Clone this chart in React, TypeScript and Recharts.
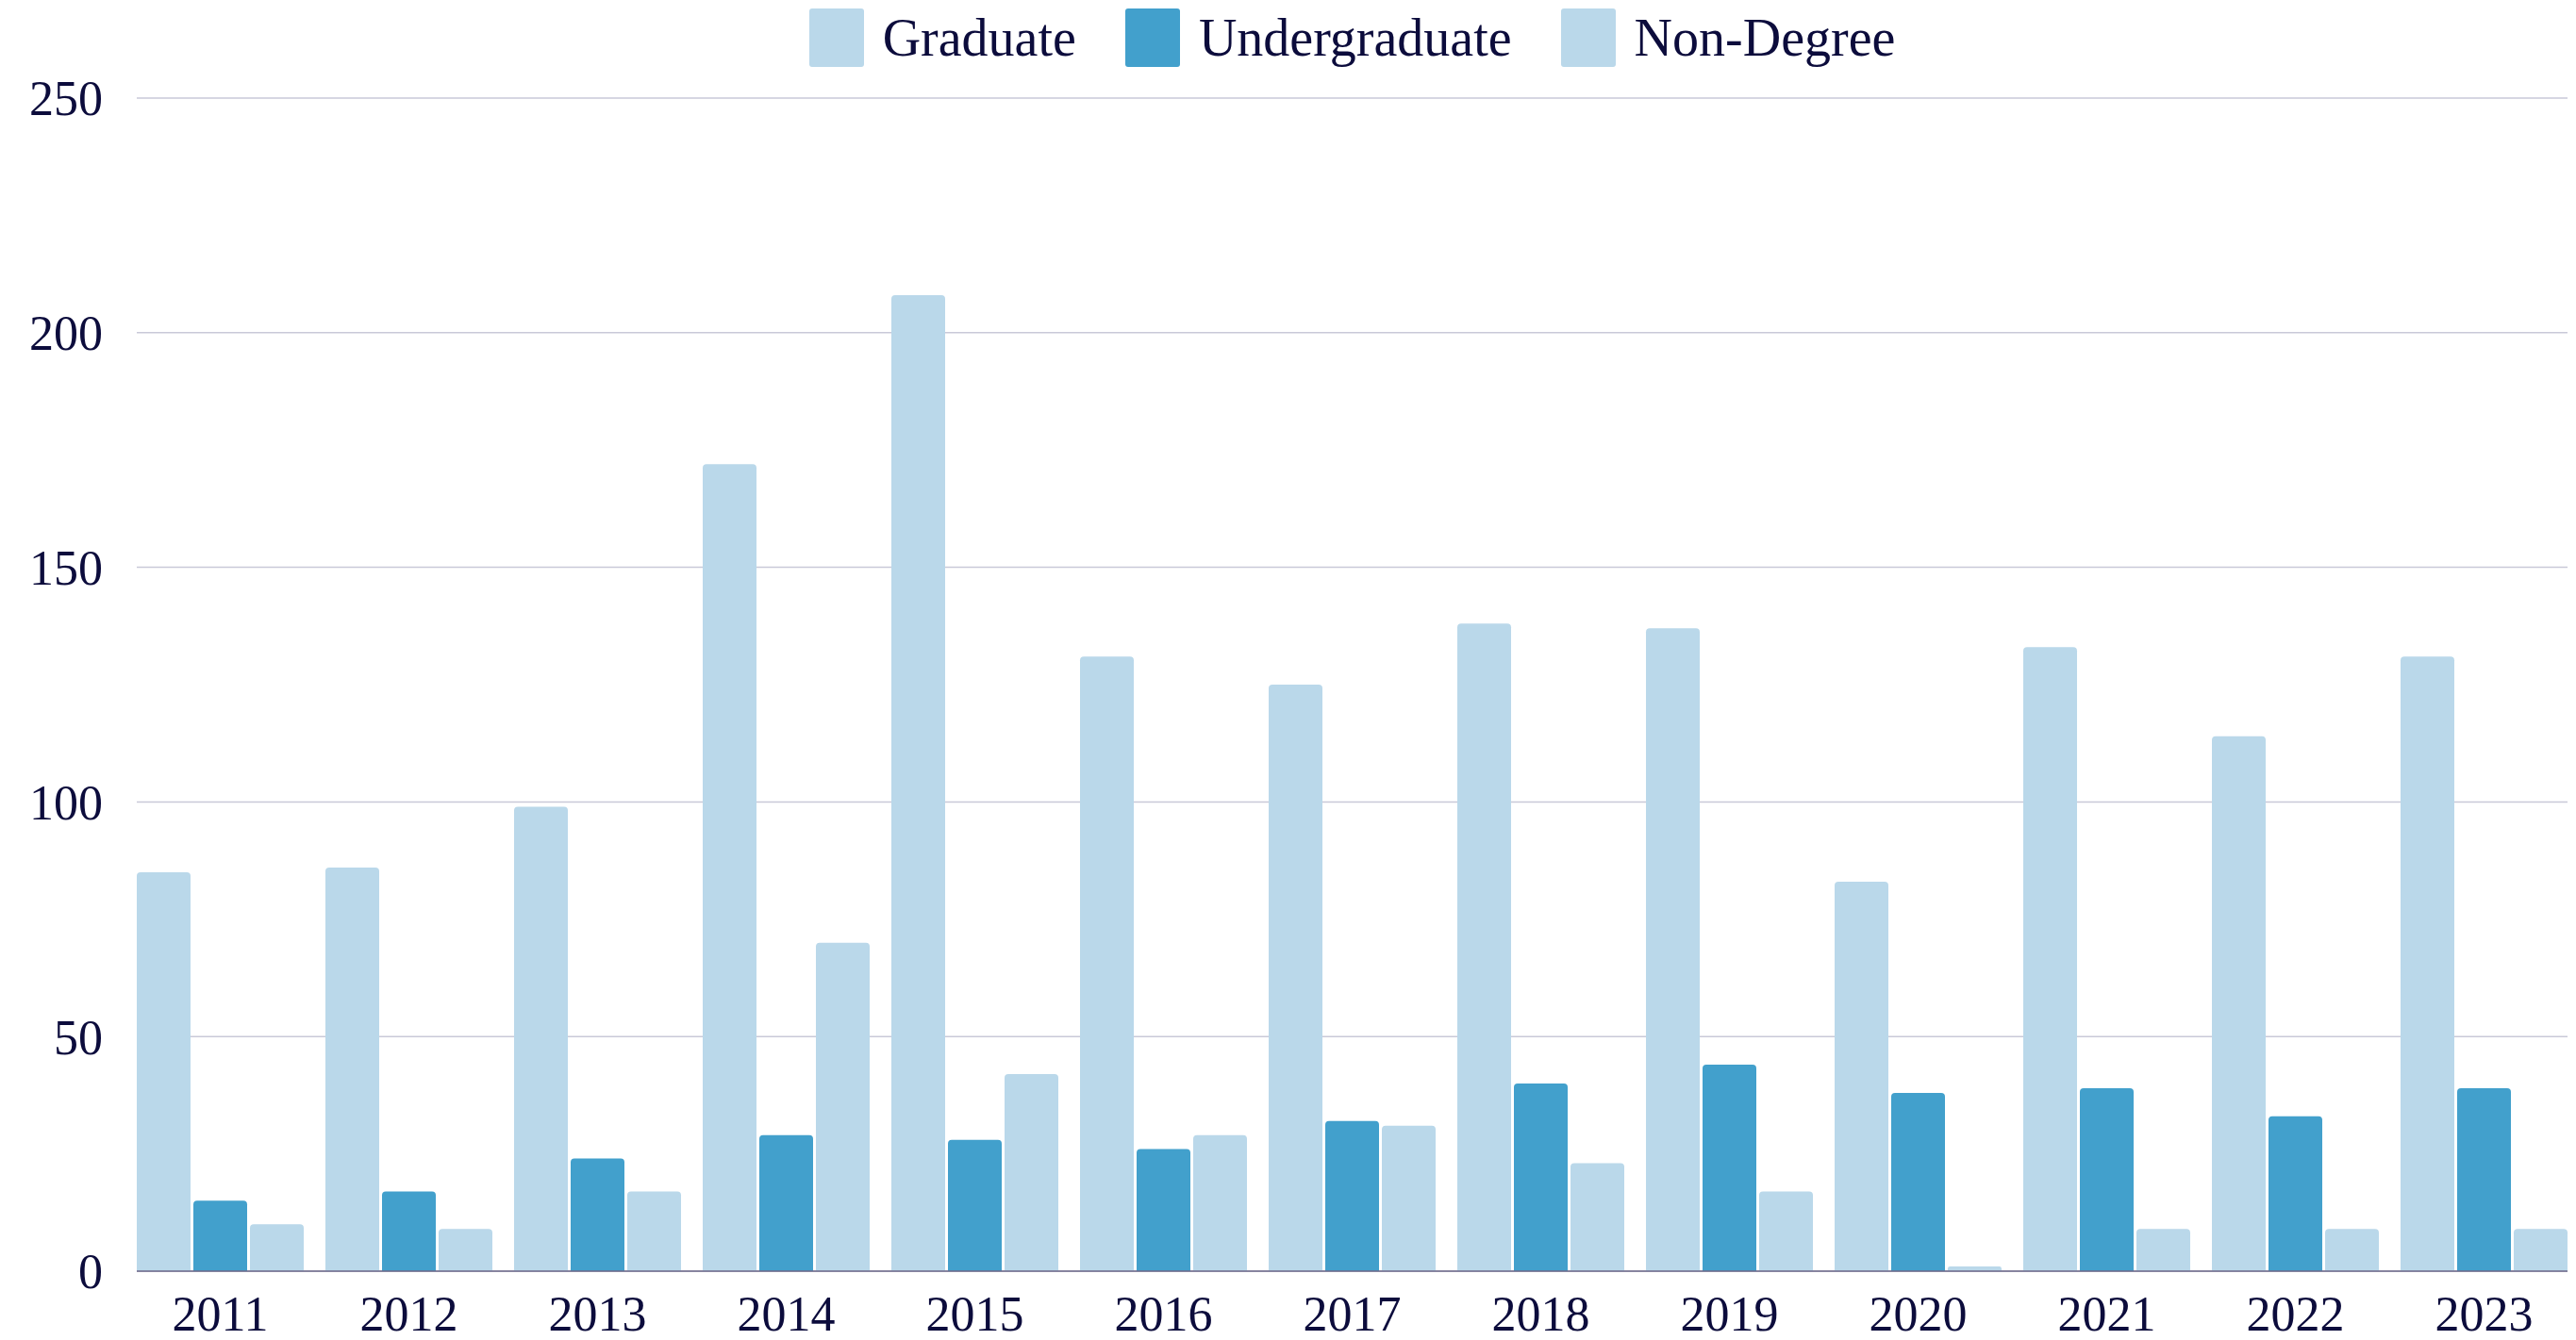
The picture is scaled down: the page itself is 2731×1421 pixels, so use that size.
import React from 'react';
import { BarChart, Bar, XAxis, YAxis, CartesianGrid } from 'recharts';

const years = ['2011', '2012', '2013', '2014', '2015', '2016', '2017', '2018', '2019', '2020', '2021', '2022', '2023'];
const graduate = [85, 86, 99, 172, 208, 131, 125, 138, 137, 83, 133, 114, 131];
const undergraduate = [15, 17, 24, 29, 28, 26, 32, 40, 44, 38, 39, 33, 39];
const nonDegree = [10, 9, 17, 70, 42, 29, 31, 23, 17, 1, 9, 9, 9];
const yTicks = [0, 50, 100, 150, 200, 250];

const LIGHT = '#bad8ea';
const DARK = '#42a0cc';
const TEXT = '#0c0c3c';
const FONT = '"Liberation Serif", "Times New Roman", serif';

const series = [
  { key: 'Graduate', color: LIGHT },
  { key: 'Undergraduate', color: DARK },
  { key: 'Non-Degree', color: LIGHT },
];

const chartData = years.map((year, i) => ({
  year,
  Graduate: graduate[i],
  Undergraduate: undergraduate[i],
  'Non-Degree': nonDegree[i],
}));

const LegendRow: React.FC = () => (
  <div
    style={{
      position: 'absolute',
      top: 9,
      left: 145,
      width: 2577,
      height: 62,
      display: 'flex',
      justifyContent: 'center',
      alignItems: 'center',
      fontFamily: FONT,
      fontSize: 56,
      color: TEXT,
    }}
  >
    {series.map((s, i) => (
      <div key={s.key} style={{ display: 'flex', alignItems: 'center', marginLeft: i === 0 ? 0 : 52 }}>
        <span style={{ width: 58, height: 62, background: s.color, borderRadius: 3, display: 'inline-block' }} />
        <span style={{ marginLeft: 20, lineHeight: '62px' }}>{s.key}</span>
      </div>
    ))}
  </div>
);

const App: React.FC = () => {
  return (
    <div style={{ position: 'absolute', top: 0, left: 0, width: 2731, height: 1421, background: '#fff' }}>
      <LegendRow />
      <BarChart
        width={2731}
        height={1421}
        data={chartData}
        margin={{ top: 104, right: 9, left: 0, bottom: 0 }}
        barCategoryGap={11.5}
        barGap={3}
      >
        <CartesianGrid vertical={false} stroke="#c9c9d8" strokeWidth={1.5} />
        <XAxis
          dataKey="year"
          height={73}
          padding={{ left: -11.5, right: -11.5 }}
          tickLine={false}
          axisLine={{ stroke: '#6c6888', strokeWidth: 1.5 }}
          tickMargin={20}
          tick={{ fill: TEXT, fontSize: 52, fontFamily: FONT }}
        />
        <YAxis
          width={145}
          domain={[0, 250]}
          ticks={yTicks}
          tickLine={false}
          axisLine={false}
          tickMargin={30}
          tick={{ fill: TEXT, fontSize: 52, fontFamily: FONT }}
        />
        {series.map((s) => (
          <Bar key={s.key} dataKey={s.key} fill={s.color} radius={[4, 4, 0, 0]} isAnimationActive={false} />
        ))}
      </BarChart>
    </div>
  );
};

export default App;
